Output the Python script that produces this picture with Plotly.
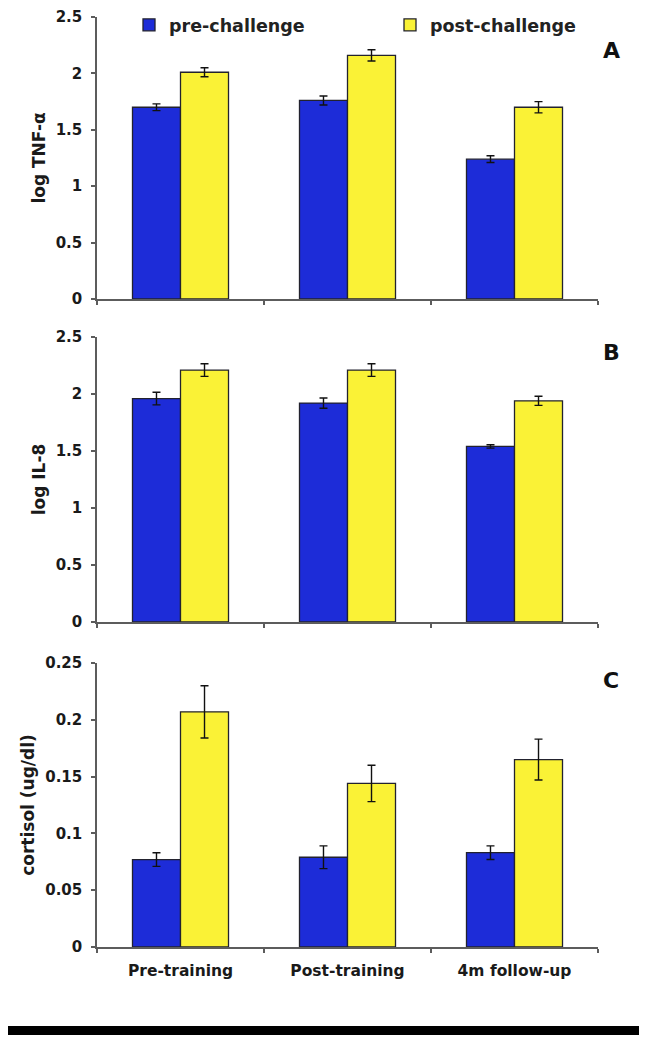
import plotly.graph_objects as go

categories = ["Pre-training", "Post-training", "4m follow-up"]
series_names = ["pre-challenge", "post-challenge"]

tnf_pre = [1.70, 1.76, 1.24]
tnf_pre_err = [0.03, 0.04, 0.03]
tnf_post = [2.01, 2.16, 1.70]
tnf_post_err = [0.04, 0.05, 0.05]

il8_pre = [1.96, 1.92, 1.54]
il8_pre_err = [0.055, 0.045, 0.015]
il8_post = [2.21, 2.21, 1.94]
il8_post_err = [0.055, 0.055, 0.04]

cort_pre = [0.077, 0.079, 0.083]
cort_pre_err = [0.006, 0.010, 0.006]
cort_post = [0.207, 0.144, 0.165]
cort_post_err = [0.023, 0.016, 0.018]

panel_titles = ["log TNF-\u03b1", "log IL-8", "cortisol (ug/dl)"]
panel_letters = ["A", "B", "C"]

BLUE = "#1d2cd8"
YELLOW = "#faf236"
AXIS = "#5c5c5c"
FONT = "DejaVu Sans"

# figure sits inside the page body's 8px margin
W = 631.0
H = 1028.0
OFFX = 8.0
OFFY = 8.0


def px(x):
    return (x - OFFX) / W


def py(y):
    return (H - (y - OFFY)) / H


fig = go.Figure()

panels = [
    (tnf_pre, tnf_pre_err, tnf_post, tnf_post_err),
    (il8_pre, il8_pre_err, il8_post, il8_post_err),
    (cort_pre, cort_pre_err, cort_post, cort_post_err),
]

legend_ids = ["legend", "legend2"]
for i, (pre, pre_e, post, post_e) in enumerate(panels):
    ax = "" if i == 0 else str(i + 1)
    for k, (name, vals, errs, col) in enumerate(
            [(series_names[0], pre, pre_e, BLUE),
             (series_names[1], post, post_e, YELLOW)]):
        fig.add_trace(go.Bar(
            x=categories, y=vals, name=name,
            marker=dict(color=col, line=dict(color="#22222e", width=1.3)),
            error_y=dict(type="data", array=errs, color="#111111",
                         thickness=1.4, width=4),
            xaxis="x" + ax, yaxis="y" + ax,
            showlegend=(i == 0), legendgroup=name, legend=legend_ids[k],
        ))

ydom = [
    [py(299), py(17)],
    [py(622), py(337)],
    [py(947), py(663)],
]
xdom = [px(97), px(598)]

legfont = dict(size=17.5, family=FONT, color="#222", weight="bold")
layout = dict(
    width=int(W), height=int(H),
    margin=dict(l=0, r=0, t=0, b=0, autoexpand=False),
    paper_bgcolor="white", plot_bgcolor="white",
    barmode="group", bargap=0.425, bargroupgap=0.0,
    font=dict(family=FONT, color="#1a1a1a"),
    legend=dict(x=px(129), y=py(25), xanchor="left", yanchor="middle",
                font=legfont, bgcolor="rgba(0,0,0,0)", itemclick=False),
    legend2=dict(x=px(390), y=py(25), xanchor="left", yanchor="middle",
                 font=legfont, bgcolor="rgba(0,0,0,0)", itemclick=False),
)

yranges = [[0, 2.5], [0, 2.5], [0, 0.25]]
dticks = [0.5, 0.5, 0.05]
for i in range(3):
    ax = "" if i == 0 else str(i + 1)
    layout["xaxis" + ax] = dict(
        domain=xdom, anchor="y" + ax, type="category",
        showline=True, linecolor=AXIS, linewidth=1.5,
        ticks="outside", tickson="boundaries", ticklen=4,
        tickcolor=AXIS, tickwidth=1.5,
        showticklabels=(i == 2), ticklabelstandoff=9,
        tickfont=dict(size=15.5, family=FONT, color="#1a1a1a", weight="bold"),
        showgrid=False, zeroline=False, fixedrange=True,
    )
    layout["yaxis" + ax] = dict(
        domain=ydom[i], anchor="x" + ax, range=yranges[i], dtick=dticks[i],
        showline=True, linecolor=AXIS, linewidth=1.5,
        ticks="outside", ticklen=4, tickcolor=AXIS, tickwidth=1.5,
        ticklabelstandoff=6,
        tickfont=dict(size=15, family=FONT, color="#1a1a1a", weight="bold"),
        title=dict(text=panel_titles[i], standoff=6,
                   font=dict(size=17, family=FONT, color="#1a1a1a", weight="bold")),
        showgrid=False, zeroline=False, fixedrange=True,
    )

fig.update_layout(**layout)

letter_y = [51, 352, 680]
for i, L in enumerate(panel_letters):
    fig.add_annotation(text="<b>%s</b>" % L, xref="paper", yref="paper",
                       x=px(611), y=py(letter_y[i]), showarrow=False,
                       font=dict(size=22, family=FONT, color="#111"),
                       xanchor="center", yanchor="middle")

fig.add_shape(type="rect", xref="paper", yref="paper",
              x0=px(8), x1=px(639), y0=py(1035), y1=py(1026),
              fillcolor="black", line=dict(width=0))

fig.write_html("out.html")
